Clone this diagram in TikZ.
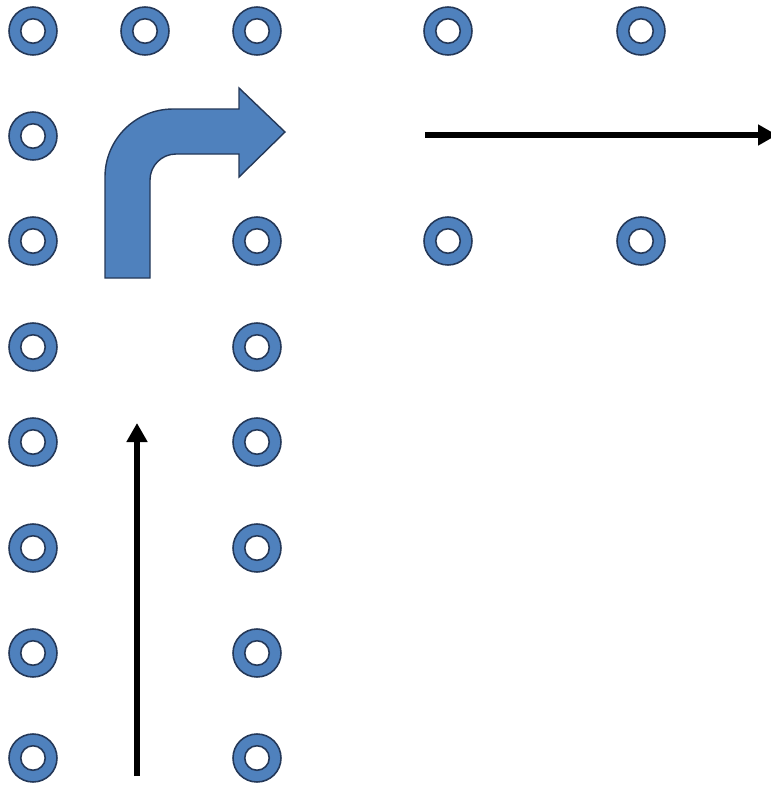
\documentclass[tikz,border=0pt]{standalone}
\usetikzlibrary{arrows.meta}
\definecolor{ringblue}{RGB}{79,129,189}
\definecolor{ringline}{RGB}{36,56,88}

\begin{document}
\begin{tikzpicture}[x=0.02cm,y=-0.02cm,
    ring/.style={circle,draw=ringline,fill=ringblue,line width=0.9pt,
      minimum size=0.96cm,inner sep=0pt,
      path picture={\draw[ringline,fill=white,line width=0.9pt]
        (path picture bounding box.center) circle (0.245cm);}},
    flow/.style={line width=3.2pt,-{Triangle[width=0.4cm,length=0.38cm]}}]
  \useasboundingbox (0,0) rectangle (771,785);

  \foreach \x/\n in {33/a,145/b,257/c,448/d,641/e}
  { \node[ring] (\n1) at (\x,31) {}; }
  \node[ring] (a2) at (33,136) {};
  \foreach \x/\n in {33/a,257/c,448/d,641/e}
  { \node[ring] (\n3) at (\x,241) {}; }
  \foreach \y/\m in {347/4,442/5,548/6,653/7,758/8}
  { \node[ring] (a\m) at (33,\y) {};
    \node[ring] (c\m) at (257,\y) {}; }

  % bent arrow
  \filldraw[fill=ringblue,draw=ringline,line width=0.8pt]
    (105,278) -- (105,177) arc[start angle=180,end angle=270,radius=68]
    -- (239,109) -- (239,88) -- (285,132) -- (239,177) -- (239,154)
    -- (176,154) arc[start angle=270,end angle=180,radius=26]
    -- (150,278) -- cycle;

  \coordinate (upstart) at (137,776);
  \coordinate (upend) at (137,423);
  \coordinate (rightstart) at (425,135);
  \coordinate (rightend) at (777,135);
  \draw[flow] (upstart) -- (upend);
  \draw[flow] (rightstart) -- (rightend);
\end{tikzpicture}
\end{document}
